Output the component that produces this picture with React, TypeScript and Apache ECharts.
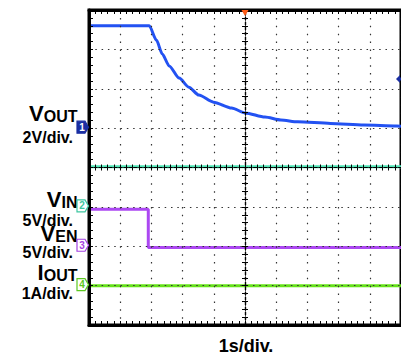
import React, { useEffect, useRef } from "react";
import * as echarts from "echarts";

// Time relative to trigger (s), 1 s/div
const voutTime = [-5, -3.07, -2.84, -2.65, -2.43, -2.11, -1.8, -1.48, -1.01, -0.43, 0.01, 0.64, 1.15, 1.69, 2.74, 3.81, 4.86, 5];
const voutVolts = [5.2, 5.2, 4.47, 3.76, 3.16, 2.54, 2.08, 1.68, 1.32, 1.02, 0.77, 0.56, 0.41, 0.32, 0.24, 0.16, 0.11, 0.1];

const vinTime = [-5, 5];
const vinVolts = [5.1, 5.1];

const venTime = [-5, -3.1, -3.1, 5];
const venVolts = [4.7, 4.7, -0.15, -0.15];

const ioutTime = [-5, 5];
const ioutAmps = [0, 0];

// channel ground position (divisions from centre) and scale per division
const channelOffsets = [1, -1, -2, -3];
const channelScales = [2, 5, 5, 1];
const channelColors = ["#2352f2", "#4fe6b6", "#ac48f2", "#66e21a"];
const markerColors = ["#1b2fa2", "#3cc6a0", "#a442e2", "#5cc822"];
const markerNames = ["1", "2", "3", "4"];
const triggerLevel = 2.5; // V on channel 1

const toDiv = (times: number[], vals: number[], ch: number) =>
  times.map((t, i) => [t, channelOffsets[ch] + vals[i] / channelScales[ch]]);

const FONT = "'Liberation Sans', Arial, Helvetica, sans-serif";

export default function App() {
  const ref = useRef<HTMLDivElement>(null);
  useEffect(() => {
    if (!ref.current) return;
    const chart = echarts.init(ref.current, undefined, { renderer: "svg" });
    const gridLine = (dash: number[]) => ({ show: true, lineStyle: { color: "#333", width: 1.2, type: dash } });
    const border = (pos: string, split: any) => ({
      type: "value",
      min: pos === "left" ? -4 : -5,
      max: pos === "left" ? 4 : 5,
      interval: 1,
      position: pos,
      z: 3,
      axisLine: { show: true, onZero: false, lineStyle: { color: "#000", width: 3 } },
      axisTick: { show: true, inside: true, length: 4, lineStyle: { color: "#000", width: 1 } },
      minorTick: { show: true, splitNumber: 5, length: 4, lineStyle: { color: "#000", width: 1 } },
      axisLabel: { show: false },
      splitLine: split,
    });
    const centre = (isX: boolean, inside: boolean) => ({
      type: "value",
      min: isX ? -5 : -4,
      max: isX ? 5 : 4,
      interval: 1,
      position: isX ? "bottom" : "left",
      z: 3,
      axisLine: { show: true, onZero: true, onZeroAxisIndex: 0, lineStyle: { color: "#000", width: 1.2, type: [3, 2] } },
      axisTick: { show: true, inside, length: 3, lineStyle: { color: "#000", width: 1 } },
      minorTick: { show: true, splitNumber: 5, length: 3, lineStyle: { color: "#000", width: 1 } },
      axisLabel: { show: false },
      splitLine: { show: false },
    });
    const line = (data: number[][], color: string) => ({
      type: "line",
      data,
      symbol: "none",
      smooth: 0.25,
      smoothMonotone: "x",
      lineStyle: { color, width: 3 },
      z: 2,
    });
    chart.setOption({
      animation: false,
      grid: { left: 89, top: 10, width: 315.4, height: 315, show: true, borderColor: "#000", borderWidth: 3, backgroundColor: "transparent" },
      xAxis: [
        border("bottom", gridLine([1.5, 6.375])),
        border("top", { show: false }),
        centre(true, true),
        centre(true, false),
      ],
      yAxis: [
        border("left", gridLine([1.5, 4.808])),
        centre(false, true),
        centre(false, false),
      ],
      series: [
        line(toDiv(vinTime, vinVolts, 1), channelColors[1]),
        line(toDiv(venTime, venVolts, 2), channelColors[2]),
        line(toDiv(ioutTime, ioutAmps, 3), channelColors[3]),
        line(toDiv(voutTime, voutVolts, 0), channelColors[0]),
      ],
    });

    const py = (div: number) => chart.convertToPixel({ yAxisIndex: 0 }, div) as number;
    const px = (t: number) => chart.convertToPixel({ xAxisIndex: 0 }, t) as number;

    const graphics: any[] = [];
    channelOffsets.forEach((off, i) => {
      const y = py(off) - 1;
      const filled = i === 0;
      graphics.push({
        type: "polygon",
        z: 10,
        shape: { points: [[77, y - 6], [85, y - 6], [88.5, y], [85, y + 6], [77, y + 6]] },
        style: { fill: filled ? markerColors[i] : "#fff", stroke: markerColors[i], lineWidth: 1.2 },
      });
      graphics.push({
        type: "text",
        z: 11,
        x: 82,
        y: y,
        style: {
          text: markerNames[i],
          fill: filled ? "#fff" : markerColors[i],
          fontSize: 10,
          fontWeight: "bold",
          fontFamily: FONT,
          align: "center",
          verticalAlign: "middle",
          lineHeight: 10,
        },
      });
    });
    // trigger position marker (top) and trigger level (right)
    const cx = px(0);
    graphics.push({
      type: "polygon",
      z: 10,
      shape: { points: [[cx - 3.5, 10], [cx + 3.5, 10], [cx, 16]] },
      style: { fill: "#ff5a14" },
    });
    const ty = py(channelOffsets[0] + triggerLevel / channelScales[0]);
    graphics.push({
      type: "polygon",
      z: 10,
      shape: { points: [[396, ty], [400, ty - 4], [400, ty - 1.5], [401, ty - 1.5], [401, ty + 1.5], [400, ty + 1.5], [400, ty + 4]] },
      style: { fill: markerColors[0] },
    });

    const big = { fontSize: 22, fontWeight: "bold", fontFamily: FONT, fill: "#000", verticalAlign: "bottom", lineHeight: 16 };
    const sub = { fontSize: 16, fontWeight: "bold", fontFamily: FONT, fill: "#000", verticalAlign: "bottom", lineHeight: 9 };
    // B = baseline of the big letter
    const richLabel = (a: string, b: string, B: number) => ({
      type: "text",
      z: 9,
      x: 77.5,
      y: B + 0.4,
      style: { text: `{a|${a}}{b|${b}}`, rich: { a: big, b: sub }, align: "right", verticalAlign: "bottom" },
    });
    const plain = (t: string, x: number, B: number, size: number, align: string) => ({
      type: "text",
      z: 9,
      x,
      y: B - 0.347 * size,
      style: { text: t, fontSize: size, fontWeight: "bold", fontFamily: FONT, fill: "#000", align, verticalAlign: "middle", lineHeight: 11 },
    });
    graphics.push(richLabel("V", "OUT", 124.5));
    graphics.push(plain("2V/div.", 73, 143.5, 16, "right"));
    graphics.push(richLabel("V", "IN", 210.5));
    graphics.push(plain("5V/div.", 73, 226, 16, "right"));
    graphics.push(richLabel("V", "EN", 244));
    graphics.push(plain("5V/div.", 73, 258.5, 16, "right"));
    graphics.push(richLabel("I", "OUT", 283));
    graphics.push(plain("1A/div.", 73, 299.5, 16, "right"));
    graphics.push(plain("1s/div.", cx + 1, 352, 18, "center"));

    chart.setOption({ graphic: graphics });
    return () => chart.dispose();
  }, []);
  return (
    <div
      ref={ref}
      style={{ position: "fixed", left: 0, top: 0, width: 401, height: 356, background: "#fff" }}
    />
  );
}
